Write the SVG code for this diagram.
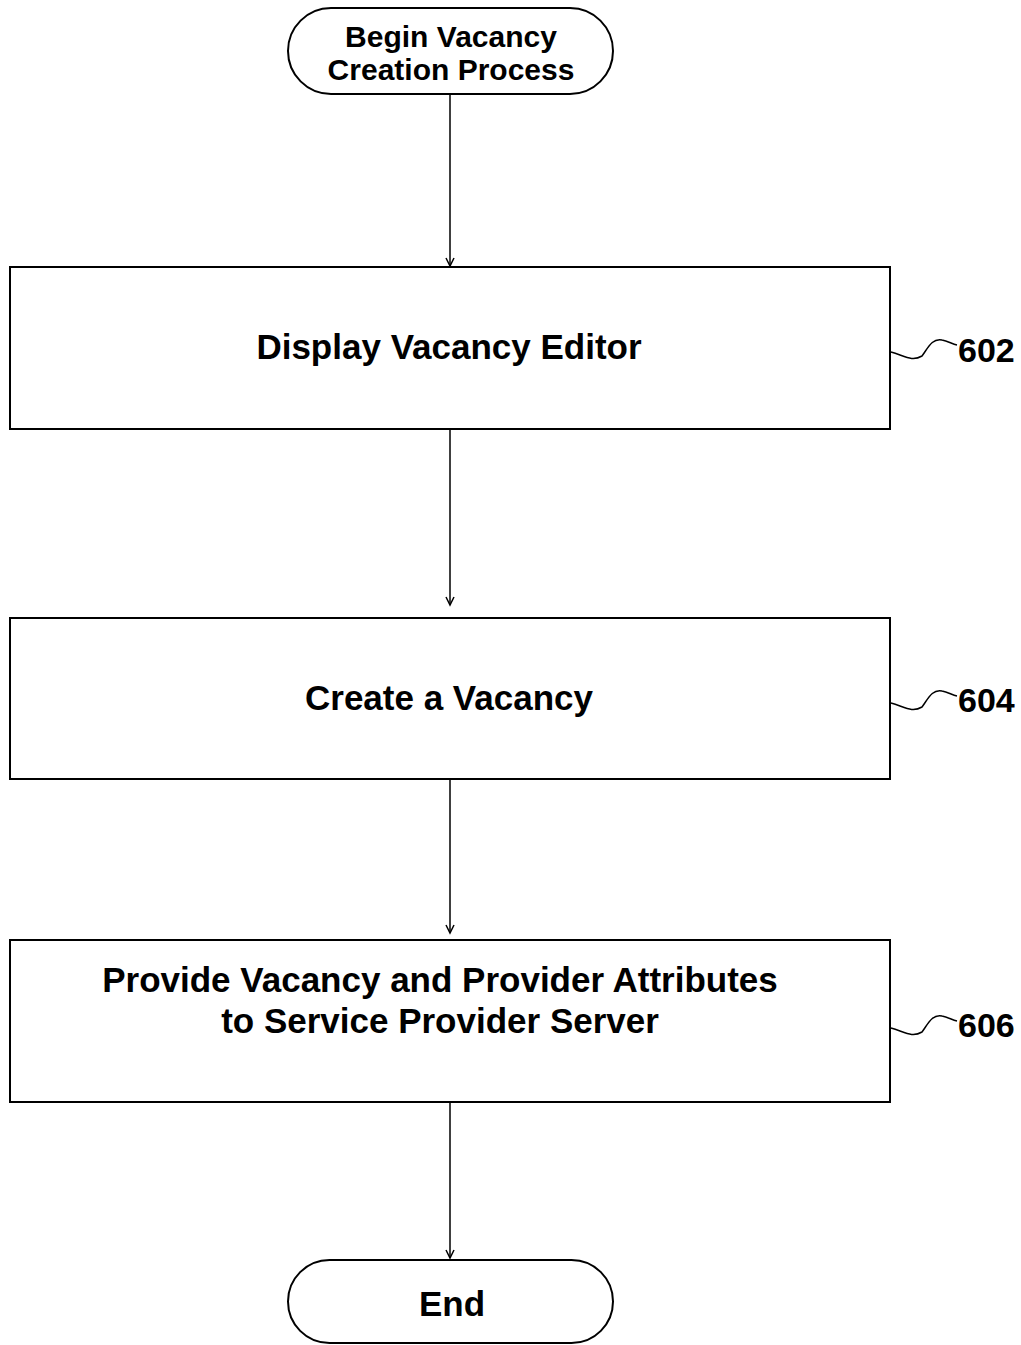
<svg xmlns="http://www.w3.org/2000/svg" width="1021" height="1345" viewBox="0 0 1021 1345">
<defs>
<style>
.box{fill:#fff;stroke:#000;stroke-width:2}
.t{font-family:"Liberation Sans",Arial,sans-serif;font-weight:bold;fill:#000;text-anchor:middle}
.big{font-size:35px}
.sm{font-size:30px}
.ref{font-family:"Liberation Sans",Arial,sans-serif;font-weight:bold;font-size:34px;fill:#000}
.c{stroke:#000;stroke-width:1.5;fill:none}
</style>
<marker id="ah" markerWidth="12" markerHeight="12" refX="10" refY="6" orient="auto" markerUnits="userSpaceOnUse" viewBox="0 0 12 12">
<path d="M2,2 L10,6 L2,10" fill="none" stroke="#000" stroke-width="1.5"/>
</marker>
</defs>
<rect width="1021" height="1345" fill="#fff"/>
<g id="connectors">
<line class="c" x1="450" y1="94" x2="450" y2="266" marker-end="url(#ah)"/>
<line class="c" x1="450" y1="430" x2="450" y2="605" marker-end="url(#ah)"/>
<line class="c" x1="450" y1="780" x2="450" y2="933" marker-end="url(#ah)"/>
<line class="c" x1="450" y1="1103" x2="450" y2="1258" marker-end="url(#ah)"/>
<path class="c" d="M891,352 C905,356 912,362 922,356 C928,348 932,338 942,340 C948,341 952,344 957,345"/>
<path class="c" d="M891,703 C905,707 912,713 922,707 C928,699 932,689 942,691 C948,692 952,695 957,696"/>
<path class="c" d="M891,1028 C905,1032 912,1038 922,1032 C928,1024 932,1014 942,1016 C948,1017 952,1020 957,1021"/>
</g>
<g id="start">
<rect class="box" x="288" y="8" width="325" height="86" rx="43" ry="43"/>
<text class="t sm" x="451" y="47">Begin Vacancy</text>
<text class="t sm" x="451" y="80">Creation Process</text>
</g>
<g id="n602">
<rect class="box" x="10" y="267" width="880" height="162"/>
<text class="t big" x="449" y="359">Display Vacancy Editor</text>
<text class="ref" x="958" y="362">602</text>
</g>
<g id="n604">
<rect class="box" x="10" y="618" width="880" height="161"/>
<text class="t big" x="449" y="710">Create a Vacancy</text>
<text class="ref" x="958" y="712">604</text>
</g>
<g id="n606">
<rect class="box" x="10" y="940" width="880" height="162"/>
<text class="t big" x="440" y="992">Provide Vacancy and Provider Attributes</text>
<text class="t big" x="440" y="1033">to Service Provider Server</text>
<text class="ref" x="958" y="1037">606</text>
</g>
<g id="end">
<rect class="box" x="288" y="1260" width="325" height="83" rx="41.5" ry="41.5"/>
<text class="t big" x="452" y="1316">End</text>
</g>
</svg>
